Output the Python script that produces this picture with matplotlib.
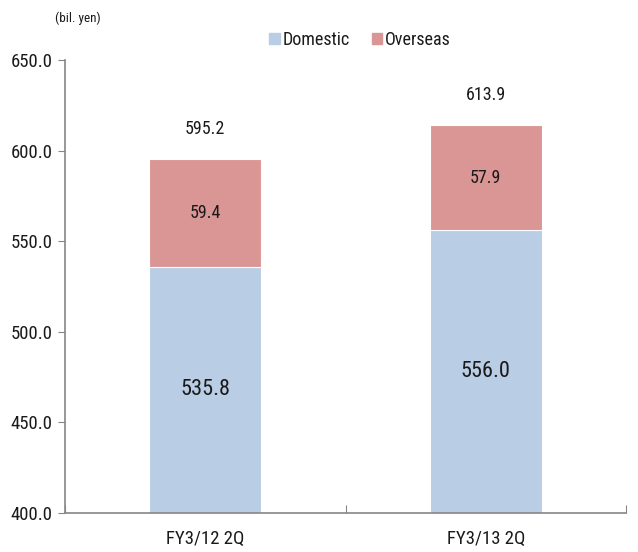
import matplotlib
matplotlib.use("Agg")
import matplotlib.pyplot as plt
from matplotlib.patches import Patch

plt.rcParams['font.family'] = ['Roboto Condensed', 'Liberation Sans Narrow',
                               'Roboto', 'DejaVu Sans']

categories = ["FY3/12 2Q", "FY3/13 2Q"]
domestic = [535.8, 556.0]
overseas = [59.4, 57.9]
totals = [595.2, 613.9]
yticks = [400.0, 450.0, 500.0, 550.0, 600.0, 650.0]

c_dom = "#B9CDE5"
c_ovs = "#D99694"
axis_c = "#868686"
text_c = "#1a1a1a"

fig = plt.figure(figsize=(6.38, 5.52), dpi=100)
ax = fig.add_axes([65 / 638, 1 - 513 / 552, (626 - 65) / 638, (513 - 60) / 552])

x = list(range(len(categories)))
base = 400.0
ax.bar(x, [d - base for d in domestic], bottom=base, width=0.4, color=c_dom,
       edgecolor="white", linewidth=0.8)
ax.bar(x, overseas, bottom=domestic, width=0.4, color=c_ovs,
       edgecolor="white", linewidth=0.8)

for i in x:
    ax.text(i, (base + domestic[i]) / 2, f"{domestic[i]:.1f}", ha="center",
            va="center", fontsize=16, color=text_c)
    ax.text(i, domestic[i] + overseas[i] / 2, f"{overseas[i]:.1f}", ha="center",
            va="center", fontsize=13, color=text_c)
    ax.text(i, totals[i] + 12, f"{totals[i]:.1f}", ha="center", va="bottom",
            fontsize=13, color=text_c)

ax.set_xlim(-0.5, 1.5)
ax.set_ylim(400, 650)
ax.set_yticks(yticks)
ax.set_yticklabels([f"{v:.1f}" for v in yticks], fontsize=13.5, color=text_c)
ax.set_xticks([-0.5, 0.5, 1.5])
ax.set_xticklabels([])
ax.set_xticks(x, minor=True)
ax.set_xticklabels(categories, minor=True, fontsize=13.5, color=text_c)
ax.tick_params(axis="x", which="minor", length=0, pad=12)
ax.tick_params(axis="x", which="major", direction="in", length=6, color=axis_c)
ax.tick_params(axis="y", direction="out", length=5, color=axis_c, pad=4)

for s in ["top", "right"]:
    ax.spines[s].set_visible(False)
for s in ["left", "bottom"]:
    ax.spines[s].set_color(axis_c)
    ax.spines[s].set_linewidth(1.2)

fig.text(78 / 638, 1 - 18 / 552, "(bil. yen)", ha="center", va="center",
         fontsize=9.5, color=text_c)

handles = [Patch(color=c_dom, label="Domestic"), Patch(color=c_ovs, label="Overseas")]
fig.legend(handles=handles, loc="center", bbox_to_anchor=(360 / 638, 1 - 40 / 552),
           ncol=2, frameon=False, fontsize=13, handlelength=0.6, handleheight=0.6,
           handletextpad=0.15, columnspacing=1.2, labelcolor=text_c)

fig.savefig("out.png", dpi=100)
